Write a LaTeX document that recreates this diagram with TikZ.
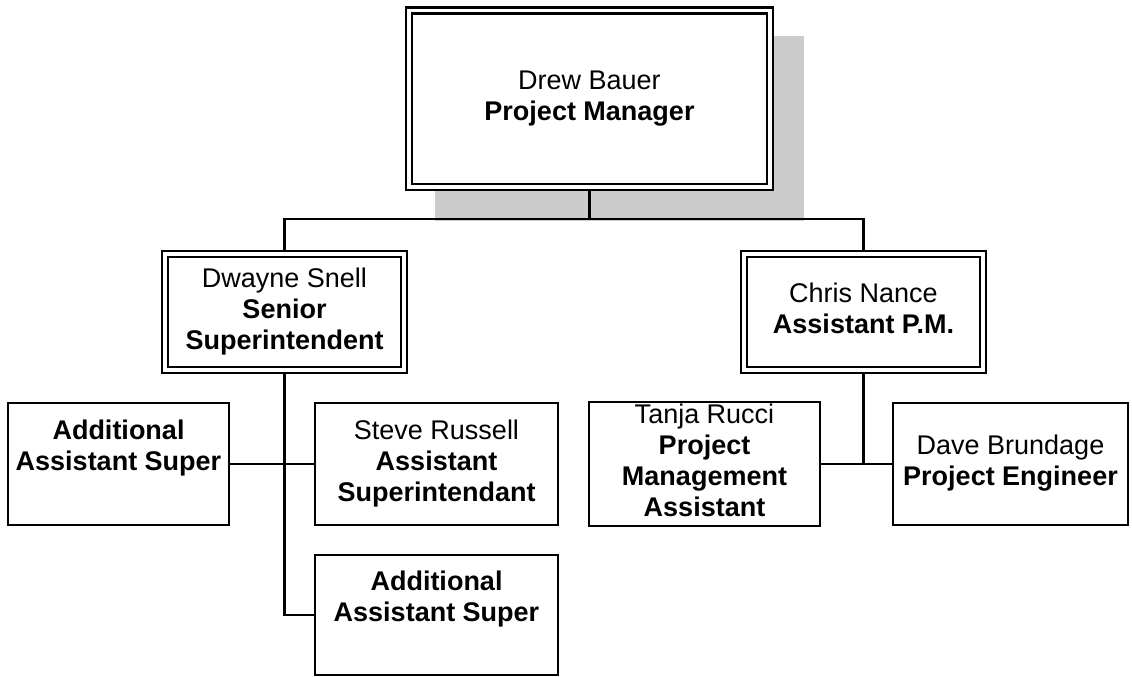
\documentclass[tikz,border=0pt]{standalone}
\usepackage{fontspec}
\setmainfont{Liberation Sans}
\usetikzlibrary{backgrounds,calc}
\newcommand\orgfont{\fontsize{27}{31}\selectfont}
\begin{document}
\begin{tikzpicture}[x=1pt,y=-1pt,
  box/.style={draw, line width=2.4pt, fill=white, font=\orgfont, align=center, inner sep=0pt},
  dbox/.style={box, line width=2.2pt, double=white, double distance=3.8pt},
  conn/.style={line width=2.4pt},
  shadowfill/.style={fill=black!20}
]
\useasboundingbox (0,0) rectangle (1132,677);

% top
\node[dbox, minimum width=361pt, minimum height=176.5pt] (top) at (589.5,98.75)
  {\strut Drew Bauer\\\strut\textbf{Project Manager}};
% middle level
\node[dbox, minimum width=239pt, minimum height=116pt] (dwayne) at (284.5,312)
  {\strut Dwayne Snell\\\strut\textbf{Senior}\\\strut\textbf{Superintendent}};
\node[dbox, minimum width=239pt, minimum height=116pt] (chris) at (863.5,312)
  {\strut Chris Nance\\\strut\textbf{Assistant P.M.}};
% bottom level
\node[box, minimum width=221pt, minimum height=122pt] (addl1) at (118.5,464)
  {\strut\textbf{Additional}\\\strut\textbf{Assistant Super}\\\strut};
\node[box, minimum width=243pt, minimum height=122pt] (steve) at (436.5,464)
  {\strut Steve Russell\\\strut\textbf{Assistant}\\\strut\textbf{Superintendant}};
\node[box, minimum width=243pt, minimum height=120pt] (addl2) at (436.5,615)
  {\strut\textbf{Additional}\\\strut\textbf{Assistant Super}\\\strut};
\node[box, minimum width=231pt, minimum height=122pt] (tanja) at (704.5,464)
  {\strut Tanja Rucci\\\strut\textbf{Project}\\\strut\textbf{Management}\\\strut\textbf{Assistant}};
\node[box, minimum width=235pt, minimum height=122pt] (dave) at (1010.5,464)
  {\strut Dave Brundage\\\strut\textbf{Project Engineer}};

\begin{pgfonlayer}{background}
  \fill[shadowfill] ($(top.north west)+(27,26.5)$) rectangle ($(top.south east)+(33,33)$);
  \coordinate (bus) at (589.5,219);
  \coordinate (cj) at (863.5,464);
  \draw[conn] (top.south) -- (bus);
  \draw[conn] (dwayne.north) |- (bus) -| (chris.north);
  \draw[conn] (dwayne.south) |- (addl2.west);
  \draw[conn] (addl1.east) -- (steve.west);
  \draw[conn] (chris.south) -- (cj);
  \draw[conn] (tanja.east) -- (dave.west);
\end{pgfonlayer}
\end{tikzpicture}
\end{document}
